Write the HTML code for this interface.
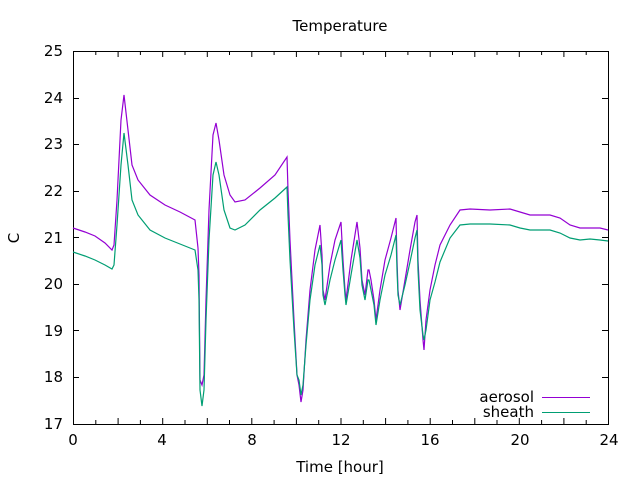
<!DOCTYPE html>
<html><head><meta charset="utf-8"><style>body{margin:0;background:#fff}svg{display:block}text{font-family:"DejaVu Sans","Liberation Sans",sans-serif;font-size:15px;fill:#000}</style></head><body>
<svg width="640" height="480" xmlns="http://www.w3.org/2000/svg">
<rect width="640" height="480" fill="#fff"/>
<g stroke="#000" stroke-width="1" fill="none">
<rect x="73.5" y="51.5" width="535" height="373"/>
<path d="M73.5 424v-6M95.8 424v-4M118.1 424v-6M140.4 424v-4M162.7 424v-6M185 424v-4M207.3 424v-6M229.5 424v-4M251.8 424v-6M274.1 424v-4M296.4 424v-6M318.7 424v-4M341 424v-6M363.3 424v-4M385.6 424v-6M407.9 424v-4M430.2 424v-6M452.5 424v-4M474.8 424v-6M497 424v-4M519.3 424v-6M541.6 424v-4M563.9 424v-6M586.2 424v-4
M73.5 51v6M95.8 51v4M118.1 51v6M140.4 51v4M162.7 51v6M185 51v4M207.3 51v6M229.5 51v4M251.8 51v6M274.1 51v4M296.4 51v6M318.7 51v4M341 51v6M363.3 51v4M385.6 51v6M407.9 51v4M430.2 51v6M452.5 51v4M474.8 51v6M497 51v4M519.3 51v6M541.6 51v4M563.9 51v6M586.2 51v4
M73 377.5h6M73 330.5h6M73 284.5h6M73 237.5h6M73 191.5h6M73 144.5h6M73 98.5h6
M608 377.5h-6M608 330.5h-6M608 284.5h-6M608 237.5h-6M608 191.5h-6M608 144.5h-6M608 98.5h-6"/>
</g>
<g text-anchor="end">
<text x="63" y="429">17</text><text x="63" y="382">18</text><text x="63" y="336">19</text><text x="63" y="289">20</text><text x="63" y="243">21</text><text x="63" y="196">22</text><text x="63" y="149">23</text><text x="63" y="103">24</text><text x="63" y="56">25</text>
</g>
<g text-anchor="middle">
<text x="73" y="445">0</text><text x="162" y="445">4</text><text x="252" y="445">8</text><text x="341" y="445">12</text><text x="430" y="445">16</text><text x="520" y="445">20</text><text x="609" y="445">24</text>
<text x="340" y="472">Time [hour]</text>
<text x="340" y="31">Temperature</text>
<text x="19" y="238" transform="rotate(-90 19 238)">C</text>
</g>
<polyline fill="none" stroke="#9400d3" stroke-width="1.2" points="73,228 85,232 95,236 105,243 112,250 114,245 117,200 121,120 124,95 128,130 132,165 138,180 150,195 165,205 180,212 195,220 198,248 199,275 200,380 202,385 204,375 206,300 209,210 213,135 216,123 219,140 224,175 230,195 235,202 245,200 260,188 275,175 287,157 288,190 290,240 294,320 297,375 299,385 301,402 303,390 306,340 310,290 315,250 320,225 322,255 323,290 325,300 330,265 335,240 341,222 343,260 345,290 346,300 351,260 357,222 360,248 362,280 365,295 368,270 369,270 371,280 374,300 376,320 380,290 385,260 391,238 396,218 397,260 398,290 400,310 405,280 410,250 415,222 417,215 418,260 420,300 423,340 424,350 426,320 430,290 435,265 440,245 450,225 460,210 470,209 490,210 510,209 520,212 530,215 540,215 550,215 560,218 570,225 580,228 590,228 600,228 608,230"/>
<polyline fill="none" stroke="#009e73" stroke-width="1.2" points="73,252 85,256 95,260 105,265 112,269 114,265 117,225 121,165 124,133 128,165 132,200 138,215 150,230 165,238 180,244 195,250 198,270 199,300 200,390 202,406 204,390 206,320 209,240 213,175 216,162 219,175 224,210 230,228 235,230 245,225 260,210 275,198 287,187 288,215 290,260 294,330 297,375 299,380 301,395 303,385 306,345 310,300 315,265 320,245 322,265 323,295 325,305 330,280 335,260 341,240 343,270 345,295 346,305 351,275 357,240 360,258 362,285 365,300 368,280 369,280 371,290 374,305 376,325 380,300 385,275 391,255 396,235 397,270 398,295 400,305 405,285 410,262 415,238 417,230 418,270 420,310 423,335 424,340 426,330 430,300 435,282 440,262 450,238 460,225 470,224 490,224 510,225 520,228 530,230 540,230 550,230 560,233 570,238 580,240 590,239 600,240 608,241"/>
<g text-anchor="end"><text x="534" y="402">aerosol</text><text x="534" y="417">sheath</text></g>
<line x1="542" y1="397.5" x2="590" y2="397.5" stroke="#9400d3"/>
<line x1="542" y1="412.5" x2="590" y2="412.5" stroke="#009e73"/>
</svg>
</body></html>
